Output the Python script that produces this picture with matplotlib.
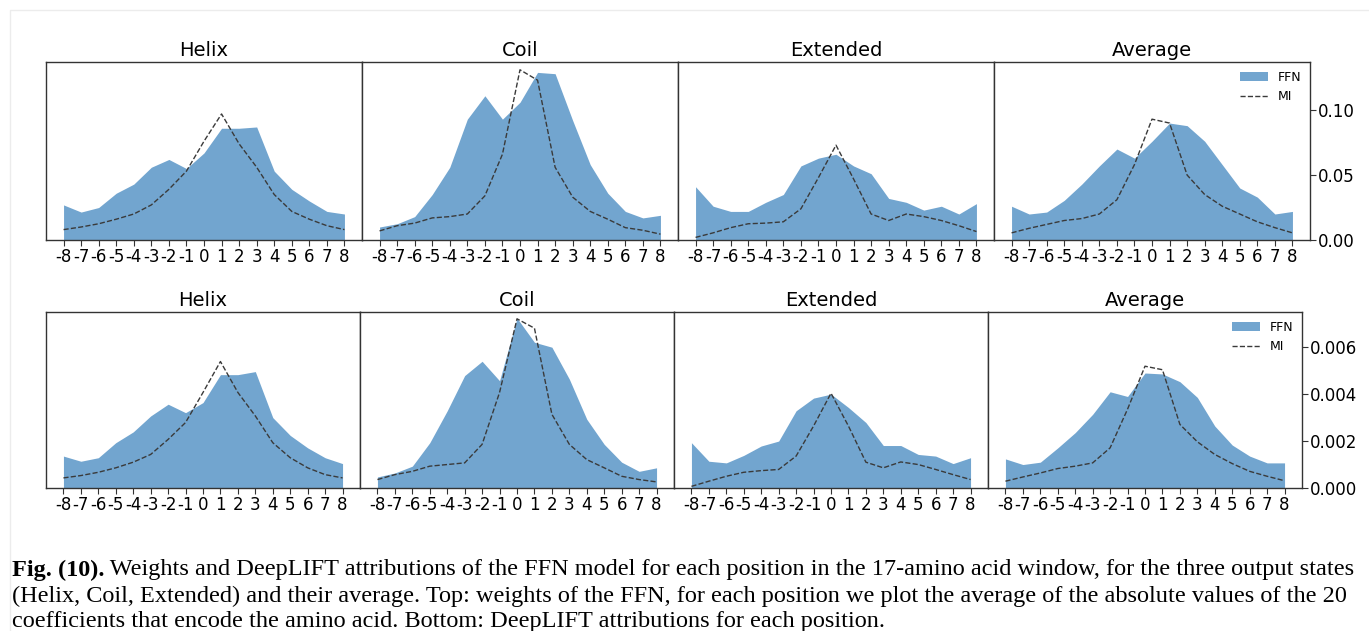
import matplotlib
matplotlib.use("Agg")
import matplotlib.pyplot as plt
from matplotlib.patches import Rectangle
import numpy as np

# ── Данные ────────────────────────────────────────────────────────────────
positions = list(range(-8, 9))
titles = ["Helix", "Coil", "Extended", "Average"]

# верхний ряд: веса FFN и MI
w_ffn_helix = [0.027, 0.0215, 0.025, 0.036, 0.043, 0.056, 0.062, 0.055, 0.067,
               0.086, 0.086, 0.087, 0.053, 0.039, 0.030, 0.022, 0.020]
w_mi_helix = [0.008, 0.010, 0.0125, 0.016, 0.020, 0.027, 0.039, 0.053, 0.076,
              0.097, 0.074, 0.056, 0.035, 0.022, 0.016, 0.011, 0.008]
w_ffn_coil = [0.010, 0.0125, 0.018, 0.035, 0.056, 0.093, 0.111, 0.093, 0.106,
              0.129, 0.128, 0.092, 0.058, 0.036, 0.022, 0.017, 0.019]
w_mi_coil = [0.007, 0.011, 0.013, 0.017, 0.018, 0.020, 0.034, 0.066, 0.131,
             0.123, 0.056, 0.033, 0.022, 0.016, 0.0095, 0.0075, 0.0045]
w_ffn_ext = [0.041, 0.026, 0.022, 0.022, 0.029, 0.035, 0.057, 0.063, 0.066,
             0.057, 0.051, 0.032, 0.029, 0.023, 0.026, 0.020, 0.028]
w_mi_ext = [0.002, 0.0055, 0.0095, 0.0125, 0.013, 0.014, 0.024, 0.048, 0.073,
            0.047, 0.020, 0.015, 0.020, 0.018, 0.015, 0.011, 0.0065]
w_ffn_avg = [0.026, 0.020, 0.0215, 0.0305, 0.043, 0.057, 0.070, 0.063, 0.076,
             0.090, 0.088, 0.076, 0.058, 0.040, 0.033, 0.020, 0.022]
w_mi_avg = [0.0055, 0.009, 0.012, 0.015, 0.0165, 0.020, 0.031, 0.058, 0.093,
            0.090, 0.050, 0.035, 0.026, 0.020, 0.014, 0.0095, 0.0055]

# нижний ряд: атрибуции DeepLIFT и MI
d_ffn_helix = [0.00136, 0.00114, 0.00129, 0.00193, 0.00239, 0.00307, 0.00357, 0.00321, 0.00364,
               0.00483, 0.00483, 0.00496, 0.0030, 0.00224, 0.00171, 0.00129, 0.00104]
d_mi_helix = [0.00043, 0.00053, 0.00067, 0.00086, 0.0011, 0.00143, 0.00207, 0.00279, 0.00407,
              0.00539, 0.00407, 0.00307, 0.00193, 0.00129, 0.00086, 0.00057, 0.00043]
d_ffn_coil = [0.00047, 0.00064, 0.00093, 0.00193, 0.00329, 0.00479, 0.0054, 0.00457, 0.00724,
              0.00621, 0.0060, 0.00464, 0.00293, 0.00186, 0.0011, 0.00071, 0.00086]
d_mi_coil = [0.00036, 0.00057, 0.00071, 0.00093, 0.0010, 0.00107, 0.00186, 0.00407, 0.00721,
             0.00681, 0.00314, 0.00186, 0.00121, 0.00086, 0.0005, 0.00036, 0.00026]
d_ffn_ext = [0.00193, 0.00114, 0.00107, 0.00139, 0.00179, 0.0020, 0.00329, 0.00383, 0.0040,
             0.00343, 0.00279, 0.00181, 0.00181, 0.00143, 0.00136, 0.00104, 0.00129]
d_mi_ext = [0.00007, 0.00029, 0.0005, 0.00067, 0.00074, 0.00079, 0.00136, 0.00264, 0.00404,
            0.00264, 0.0011, 0.00086, 0.00111, 0.0010, 0.00079, 0.00057, 0.00036]
d_ffn_avg = [0.00124, 0.0010, 0.0011, 0.00171, 0.00236, 0.00314, 0.0041, 0.0039, 0.0049,
             0.00486, 0.00453, 0.00386, 0.00264, 0.00183, 0.00136, 0.00107, 0.00107]
d_mi_avg = [0.00029, 0.00047, 0.00064, 0.00083, 0.00093, 0.00107, 0.00171, 0.00336, 0.00519,
            0.00504, 0.00271, 0.00197, 0.00143, 0.00104, 0.00071, 0.0005, 0.00031]

top_ffn = [w_ffn_helix, w_ffn_coil, w_ffn_ext, w_ffn_avg]
top_mi = [w_mi_helix, w_mi_coil, w_mi_ext, w_mi_avg]
bot_ffn = [d_ffn_helix, d_ffn_coil, d_ffn_ext, d_ffn_avg]
bot_mi = [d_mi_helix, d_mi_coil, d_mi_ext, d_mi_avg]

caption_bold = "Fig. (10)."
caption_lines = [
    " Weights and DeepLIFT attributions of the FFN model for each position in the 17-amino acid window, for the three output states",
    "(Helix, Coil, Extended) and their average. Top: weights of the FFN, for each position we plot the average of the absolute values of the 20",
    "coefficients that encode the amino acid. Bottom: DeepLIFT attributions for each position.",
]

FILL = "#72a5cf"
W, H = 1369, 631

fig = plt.figure(figsize=(W / 100, H / 100), dpi=100)

# едва заметная рамка скриншота
fig.add_artist(Rectangle((10 / W, -0.1), 1.2, (H - 10) / H + 0.1,
                         transform=fig.transFigure, fill=False,
                         edgecolor="#ececec", lw=1.0))


def draw_row(ffn_list, mi_list, y_top, y_bot, x0, panel_w, ylim, yticks, yfmt):
    axes = []
    for k in range(4):
        ax = fig.add_axes([(x0 + k * panel_w) / W, (H - y_bot) / H,
                           panel_w / W, (y_bot - y_top) / H])
        x = np.array(positions)
        ax.fill_between(x, ffn_list[k], 0, color=FILL, lw=0, label="FFN")
        ax.plot(x, mi_list[k], ls="--", color="#3a3a3a", lw=1.0, label="MI")
        ax.set_xlim(-9, 9)
        ax.set_ylim(0, ylim)
        ax.set_xticks(positions)
        ax.set_xticklabels([str(p) for p in positions], fontsize=12)
        ax.set_title(titles[k], fontsize=14, pad=4)
        for s in ax.spines.values():
            s.set_color("#333333")
            s.set_linewidth(1.0)
        ax.tick_params(axis="x", length=4, pad=2, color="#333333")
        if k < 3:
            ax.set_yticks([])
        else:
            ax.yaxis.tick_right()
            ax.set_yticks(yticks)
            ax.set_yticklabels([yfmt.format(v) for v in yticks], fontsize=12)
            ax.tick_params(axis="y", length=4, pad=2, color="#333333")
            ax.legend(loc="upper right", frameon=False, fontsize=9,
                      borderaxespad=0.3, handlelength=2.2)
        axes.append(ax)
    return axes


draw_row(top_ffn, top_mi, 62, 240, 46, 316, 0.137,
         [0.0, 0.05, 0.10], "{:.2f}")
draw_row(bot_ffn, bot_mi, 312, 488, 46, 314, 0.0075,
         [0.0, 0.002, 0.004, 0.006], "{:.3f}")

# ── Подпись к рисунку ─────────────────────────────────────────────────────
cap_fs = 17.5
line_y = [570, 596, 621]
renderer = fig.canvas.get_renderer()
tb = fig.text(12 / W, (H - line_y[0]) / H, caption_bold, fontsize=cap_fs,
              family="Liberation Serif", weight="bold", va="center")
bb = tb.get_window_extent(renderer=renderer)
fig.text(bb.x1 / W, (H - line_y[0]) / H, caption_lines[0], fontsize=cap_fs,
         family="Liberation Serif", va="center")
for i in (1, 2):
    fig.text(12 / W, (H - line_y[i]) / H, caption_lines[i], fontsize=cap_fs,
             family="Liberation Serif", va="center")

fig.savefig("out.png", dpi=100)
plt.close(fig)
